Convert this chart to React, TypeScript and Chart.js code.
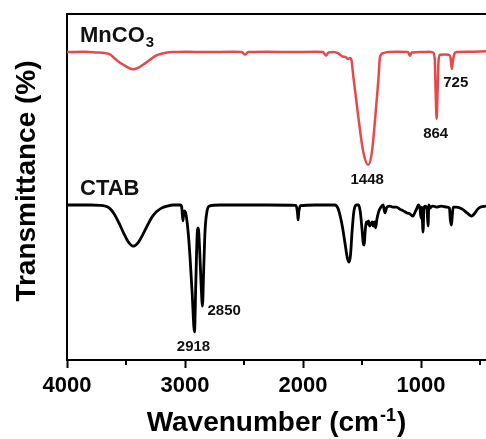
import { useEffect, useRef } from 'react';
import { Chart, registerables } from 'chart.js';

Chart.register(...registerables);

// ---------- data ----------
const mnco3Wavenumbers = [
  4000, 3850, 3750, 3680, 3640, 3600, 3560, 3520, 3480, 3440, 3400, 3350, 3300, 3250, 3200, 3150, 3100, 3000,
  2800, 2600, 2520, 2490, 2465, 2300, 2100, 1900, 1830, 1805, 1785, 1740, 1700, 1665, 1640, 1620, 1602, 1590,
  1574, 1532, 1490, 1448, 1418, 1390, 1362, 1348, 1320, 1280, 1200, 1110, 1095, 1080, 1000, 930, 900, 885,
  876, 868, 860, 852, 840, 800, 765, 750, 740, 730, 718, 700, 600, 450,
];
const mnco3Transmittance = [
  89.0, 89.1, 88.9, 88.7, 88.4, 87.3, 86.1, 85.3, 84.5, 84.0, 84.4, 85.5, 86.7, 87.9, 88.5, 88.9, 89.0, 89.1,
  89.0, 89.1, 89.0, 88.3, 89.0, 89.1, 89.0, 89.1, 89.0, 88.0, 88.9, 89.0, 88.6, 87.7, 87.6, 87.0, 87.3, 86.7,
  81.9, 70.3, 60.2, 56.4, 59.8, 69.4, 80.9, 87.6, 88.7, 89.0, 89.1, 89.0, 87.9, 88.9, 89.0, 89.1, 88.9, 87.3,
  76.6, 69.7, 78.0, 86.5, 88.2, 88.3, 88.2, 87.3, 84.1, 86.5, 88.5, 89.0, 89.1, 89.2,
];

const ctabWavenumbers = [
  4000, 3800, 3720, 3680, 3640, 3600, 3560, 3520, 3480, 3440, 3400, 3360, 3320, 3280, 3240, 3200, 3150, 3100,
  3040, 3028, 3018, 3008, 2995, 2975, 2958, 2940, 2920, 2908, 2896, 2888, 2876, 2864, 2852, 2842, 2830, 2815,
  2795, 2700, 2300, 2060, 2048, 2042, 2036, 2020, 1900, 1730, 1705, 1685, 1665, 1645, 1625, 1610, 1598, 1585,
  1570, 1550, 1530, 1515, 1500, 1490, 1482, 1474, 1465, 1456, 1446, 1436, 1425, 1415, 1405, 1395, 1385,
  1375, 1360, 1340, 1322, 1306, 1290, 1270, 1240, 1207, 1180, 1150, 1120, 1094, 1069, 1050, 1035, 1024,
  1010, 1000, 995, 983, 976, 965, 950, 941, 934, 923, 916, 900, 870, 830, 780, 760, 752, 743, 736, 728, 700,
  650, 610, 571, 550, 520, 495, 450,
];
const ctabTransmittance = [
  44.8, 44.8, 44.7, 44.5, 43.9, 42.2, 39.6, 36.7, 34.1, 32.9, 33.8, 36.1, 38.8, 41.3, 42.9, 43.9, 44.5, 44.8,
  44.8, 44.2, 40.2, 43.1, 42.5, 37.5, 29.9, 19.5, 8.1, 23.1, 37.0, 38.2, 31.8, 22.0, 15.6, 26.0, 37.6, 42.8,
  44.5, 44.8, 44.8, 44.7, 42.8, 40.5, 42.8, 44.6, 44.8, 44.8, 43.9, 41.6, 38.2, 33.8, 29.5, 28.3, 30.3, 37.0,
  42.8, 44.8, 44.8, 42.8, 37.6, 33.8, 33.2, 37.0, 39.9, 39.3, 40.2, 38.7, 39.3, 39.9, 38.7, 39.9, 38.2,
  40.5, 42.8, 44.2, 44.8, 42.5, 44.2, 44.5, 44.2, 44.2, 43.6, 43.1, 42.5, 42.2, 41.6, 42.8, 43.9, 44.8,
  43.9, 41.0, 44.2, 37.0, 43.9, 44.5, 43.6, 38.7, 44.8, 43.9, 44.2, 44.5, 44.2, 44.5, 44.2, 43.9, 40.5, 39.0,
  41.6, 44.2, 44.2, 43.6, 42.5, 41.6, 42.2, 43.6, 44.2, 44.5,
];

const seriesNames = ['MnCO', 'CTAB'];
const seriesSubscripts = ['3', ''];
const xMajorTicks = [4000, 3000, 2000, 1000];
const xMinorTicks = [3500, 2500, 1500, 500];
const xRange = [450, 4000];
const yRange = [0, 100];

const peakLabels = ['1448', '864', '725', '2918', '2850'];
const peakWavenumbers = [1448, 868, 740, 2920, 2852];
const peakTransmittance = [56.4, 69.7, 84.1, 8.1, 15.6];

const xTitle = 'Wavenumber (cm';
const xTitleSup = '-1';
const yTitle = 'Transmittance (%)';

const FONT = "'Liberation Sans', Arial, sans-serif";
const RED = 'rgb(232, 72, 74)';
const BLACK = '#000000';

const textPlugin = {
  id: 'ftirText',
  afterDraw(chart: any) {
    const { ctx, chartArea } = chart;
    const xs = chart.scales.x;
    const ys = chart.scales.y;
    ctx.save();
    // top border
    ctx.strokeStyle = BLACK;
    ctx.lineWidth = 2;
    ctx.beginPath();
    ctx.moveTo(chartArea.left - 1, chartArea.top);
    ctx.lineTo(chartArea.right, chartArea.top);
    ctx.stroke();
    // minor ticks
    xMinorTicks.forEach((v) => {
      const px = Math.round(xs.getPixelForValue(v));
      ctx.beginPath();
      ctx.moveTo(px, chartArea.bottom);
      ctx.lineTo(px, chartArea.bottom + 5);
      ctx.stroke();
    });

    ctx.fillStyle = '#111';
    // series names
    const firstVals = [mnco3Transmittance[0], ctabTransmittance[0]];
    seriesNames.forEach((name, i) => {
      const baseY = ys.getPixelForValue(firstVals[i]) - 10;
      const x0 = chartArea.left + 13;
      ctx.font = `bold 22px ${FONT}`;
      ctx.textAlign = 'left';
      ctx.textBaseline = 'alphabetic';
      ctx.fillText(name, x0, baseY);
      const w = ctx.measureText(name).width;
      if (seriesSubscripts[i]) {
        ctx.font = `bold 15px ${FONT}`;
        ctx.fillText(seriesSubscripts[i], x0 + w + 1, baseY + 5);
      }
    });

    // peak labels
    ctx.font = `bold 15px ${FONT}`;
    peakLabels.forEach((lab, i) => {
      const px = xs.getPixelForValue(peakWavenumbers[i]);
      const py = ys.getPixelForValue(peakTransmittance[i]);
      ctx.textBaseline = 'alphabetic';
      if (lab === '2850') {
        ctx.textAlign = 'left';
        ctx.fillText(lab, px + 5, py + 9);
      } else if (lab === '725') {
        ctx.textAlign = 'center';
        ctx.fillText(lab, px + 4, py + 18);
      } else {
        ctx.textAlign = 'center';
        ctx.fillText(lab, px - 1, py + 19);
      }
    });

    // x title with superscript
    ctx.fillStyle = BLACK;
    ctx.font = `bold 28px ${FONT}`;
    const wMain = ctx.measureText(xTitle).width;
    ctx.font = `bold 18px ${FONT}`;
    const wSup = ctx.measureText(xTitleSup).width;
    ctx.font = `bold 28px ${FONT}`;
    const wClose = ctx.measureText(')').width;
    const total = wMain + wSup + wClose + 2;
    const cx = (chartArea.left + chartArea.right) / 2;
    let x = cx - total / 2;
    const base = 431;
    ctx.textAlign = 'left';
    ctx.textBaseline = 'alphabetic';
    ctx.fillText(xTitle, x, base);
    x += wMain + 1;
    ctx.font = `bold 18px ${FONT}`;
    ctx.fillText(xTitleSup, x, base - 10);
    x += wSup + 1;
    ctx.font = `bold 28px ${FONT}`;
    ctx.fillText(')', x, base);

    // y title
    ctx.translate(35, (chartArea.top + chartArea.bottom) / 2 - 6);
    ctx.rotate(-Math.PI / 2);
    ctx.textAlign = 'center';
    ctx.textBaseline = 'alphabetic';
    ctx.fillText(yTitle, 0, 0);
    ctx.restore();
  },
};

export default function App() {
  const ref = useRef<HTMLCanvasElement | null>(null);
  useEffect(() => {
    if (!ref.current) return;
    const toXY = (xsArr: number[], ysArr: number[]) => xsArr.map((v, i) => ({ x: v, y: ysArr[i] }));
    const chart = new Chart(ref.current, {
      type: 'line',
      data: {
        datasets: [
          {
            label: 'MnCO3',
            data: toXY(mnco3Wavenumbers, mnco3Transmittance),
            borderColor: RED,
            borderWidth: 2.5,
            pointRadius: 0,
            cubicInterpolationMode: 'monotone',
          },
          {
            label: 'CTAB',
            data: toXY(ctabWavenumbers, ctabTransmittance),
            borderColor: BLACK,
            borderWidth: 2.8,
            pointRadius: 0,
            cubicInterpolationMode: 'monotone',
          },
        ],
      },
      options: {
        animation: false,
        responsive: false,
        layout: { padding: { top: 14, right: 0, left: 0, bottom: 0 } },
        plugins: { legend: { display: false }, tooltip: { enabled: false }, title: { display: false } },
        scales: {
          x: {
            type: 'linear',
            reverse: true,
            min: xRange[0],
            max: xRange[1],
            afterBuildTicks: (scale: any) => {
              scale.ticks = xMajorTicks.map((v) => ({ value: v }));
            },
            afterFit: (scale: any) => {
              scale.height = 79;
            },
            border: { display: true, width: 2, color: BLACK },
            grid: { display: true, drawOnChartArea: false, drawTicks: true, tickLength: 8, tickWidth: 2, tickColor: BLACK },
            ticks: {
              color: BLACK,
              font: { family: FONT, size: 22, weight: 'bold' },
              padding: 5,
              maxRotation: 0,
              autoSkip: false,
              callback: (v: any) => String(v),
            },
          },
          y: {
            type: 'linear',
            min: yRange[0],
            max: yRange[1],
            afterFit: (scale: any) => {
              scale.width = 67;
            },
            border: { display: true, width: 2, color: BLACK },
            grid: { display: false },
            ticks: { display: false },
          },
        },
      },
      plugins: [textPlugin],
    } as any);
    return () => chart.destroy();
  }, []);
  return (
    <div style={{ position: 'fixed', left: 0, top: 0, width: 486, height: 439, background: '#fff' }}>
      <canvas ref={ref} width={486} height={439} />
    </div>
  );
}
